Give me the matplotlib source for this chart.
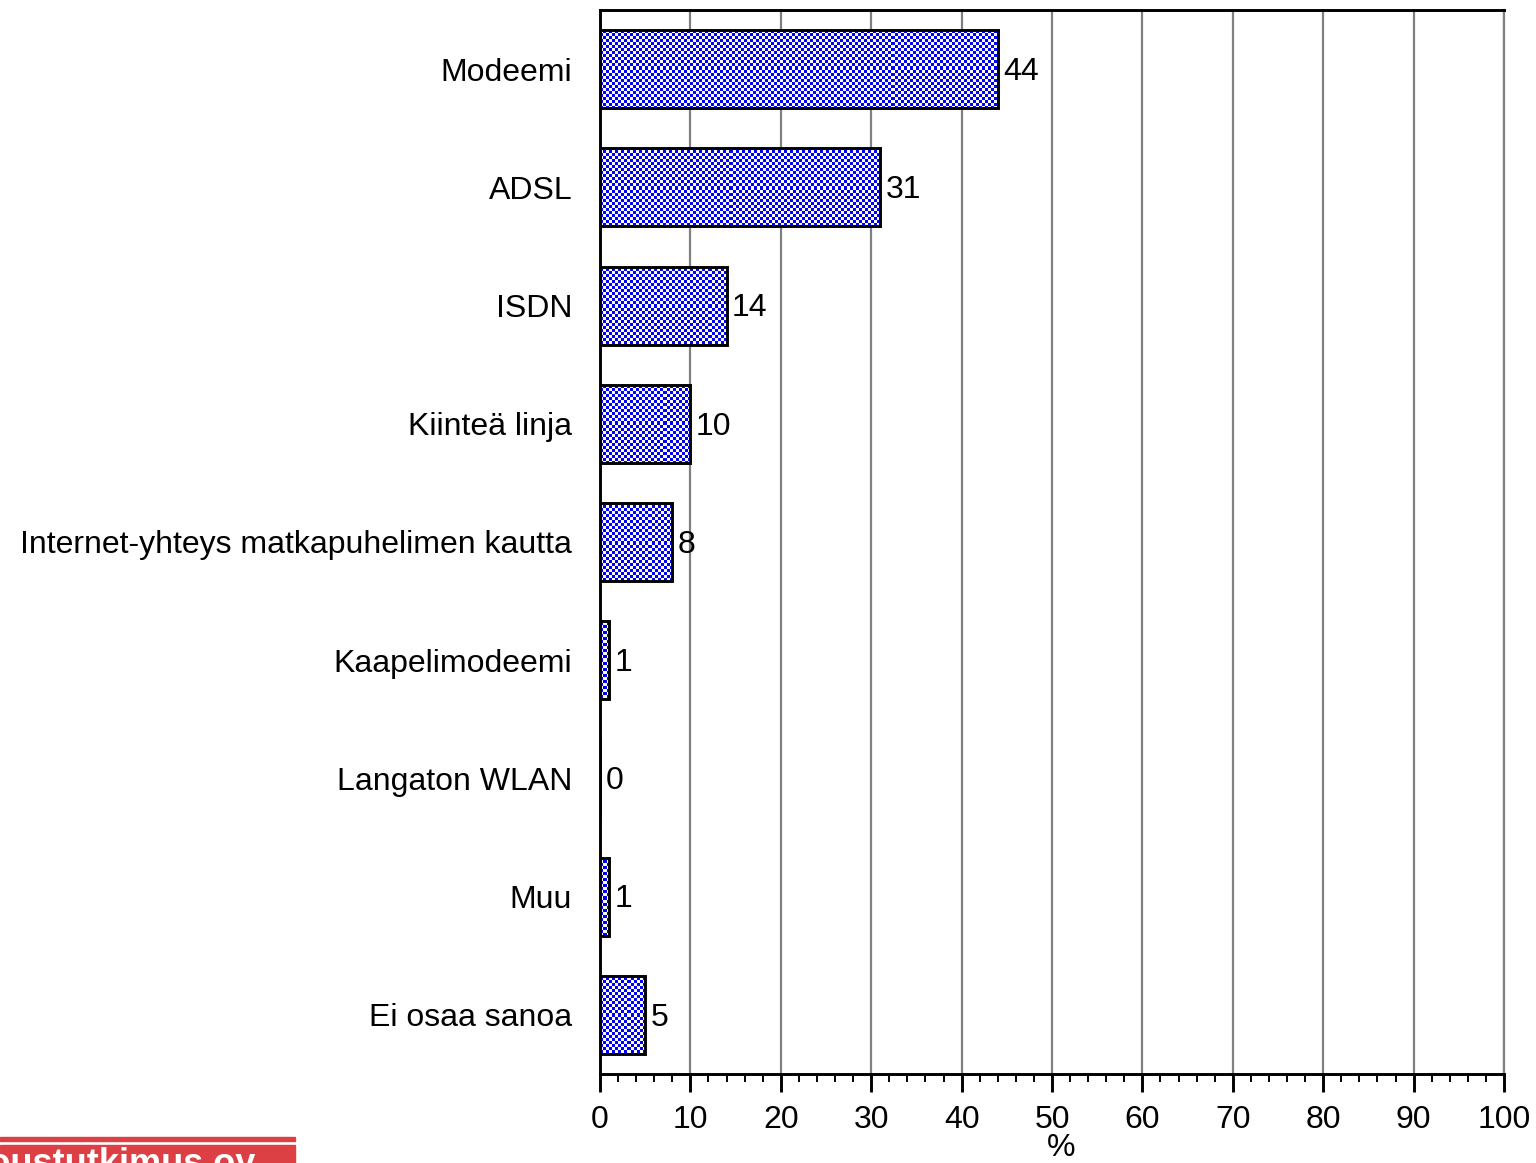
import numpy as np
import matplotlib
matplotlib.use('Agg')
import matplotlib.pyplot as plt
from matplotlib.patches import Rectangle
from matplotlib.ticker import MultipleLocator

plt.rcParams['font.family'] = ['Liberation Sans', 'DejaVu Sans']

categories = ['Modeemi', 'ADSL', 'ISDN', 'Kiinteä linja',
              'Internet-yhteys matkapuhelimen kautta', 'Kaapelimodeemi',
              'Langaton WLAN', 'Muu', 'Ei osaa sanoa']
values = [44, 31, 14, 10, 8, 1, 0, 1, 5]
xticks = list(range(0, 101, 10))

W, H = 1536, 1163
fig = plt.figure(figsize=(W / 100, H / 100), dpi=100)
ax = fig.add_axes([600 / W, 1 - 1074 / H, 904 / W, 1064 / H])

ypos = np.arange(len(categories))
bars = ax.barh(ypos, values, height=0.66, color='none', edgecolor='black',
               linewidth=2.1, zorder=3)

# checkerboard fill, 3px cells, clipped to each bar
ny, nx = 1064 // 3, 904 // 3
ii, jj = np.indices((ny, nx))
checker = ((ii + jj) % 2).astype(float)
cmap = matplotlib.colors.ListedColormap(['#0000ff', '#ffffff'])
for b, v in zip(bars, values):
    if v <= 0:
        continue
    im = ax.imshow(checker, cmap=cmap, extent=(0, 100, 8.5, -0.5),
                   interpolation='nearest', aspect='auto', zorder=2)
    im.set_clip_path(b)

for y, v in zip(ypos, values):
    ax.annotate(str(v), (v, y), xytext=(4, -2), textcoords='offset points',
                va='center', ha='left', fontsize=23)

ax.set_xlim(0, 100)
ax.set_ylim(8.5, -0.5)
ax.set_aspect('auto')
ax.set_yticks(ypos)
ax.set_yticklabels(categories, fontsize=23)
ax.set_xticks(xticks)
ax.set_xticklabels([str(t) for t in xticks], fontsize=23)
ax.xaxis.set_minor_locator(MultipleLocator(2))
ax.tick_params(axis='y', length=0, pad=20)
ax.tick_params(axis='x', which='major', length=13, width=2.1, pad=9)
ax.tick_params(axis='x', which='minor', length=6, width=1.4)
ax.set_xlabel('%', fontsize=23, labelpad=3)
ax.xaxis.set_label_coords(0.51, -0.055)

ax.grid(axis='x', color='#808080', linewidth=1.6, zorder=1)
ax.set_axisbelow(True)
for s in ['left', 'bottom', 'top']:
    ax.spines[s].set_linewidth(2.1)
    ax.spines[s].set_zorder(4)
ax.spines['right'].set_color('#808080')
ax.spines['right'].set_linewidth(1.6)

# logo strip at bottom left
red = '#dc4045'
fig.patches.append(Rectangle((0, 1 - 1141 / H), 295 / W, 4 / H,
                             transform=fig.transFigure, color=red))
block = Rectangle((0, 0), 295 / W, 18 / H, transform=fig.transFigure, color=red)
fig.patches.append(block)
t = fig.text(255 / W, 1 - 1147 / H, 'Taloustutkimus oy', color='white',
             fontsize=26, fontweight='bold', ha='right', va='top')
t.set_clip_path(block)

fig.savefig('out.png', dpi=100)
